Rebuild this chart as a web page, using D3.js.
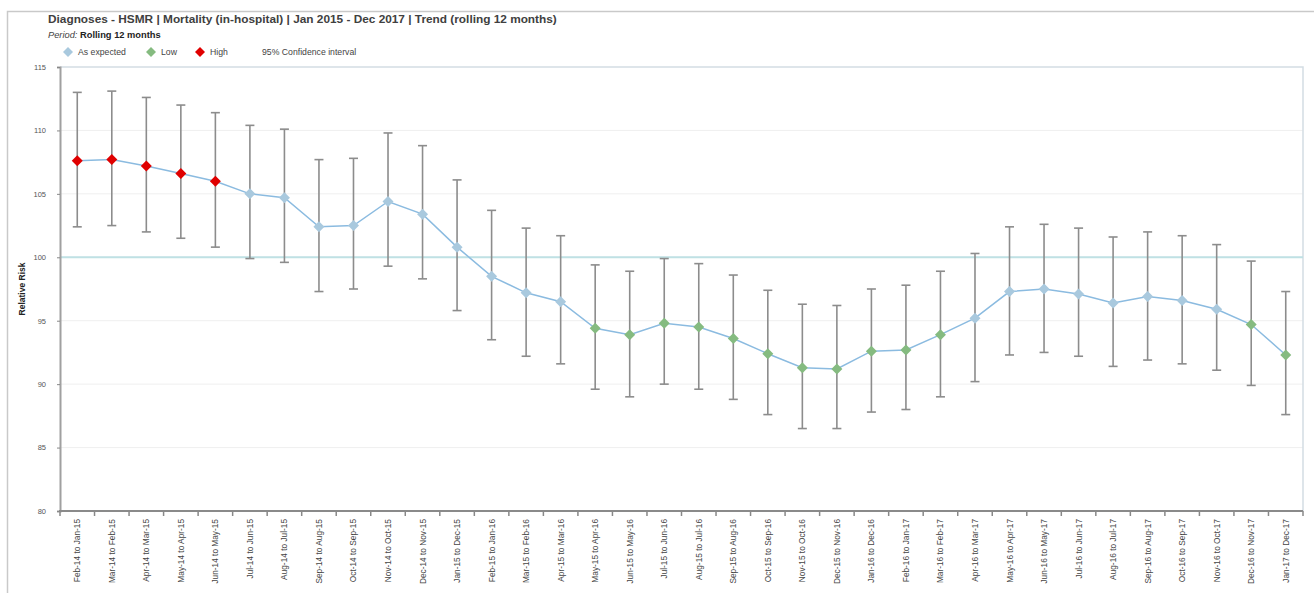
<!DOCTYPE html>
<html>
<head>
<meta charset="utf-8">
<script src="https://cdn.jsdelivr.net/npm/d3@7"></script>
<style>
  html, body { margin: 0; padding: 0; background: #fff; }
  svg { display: block; font-family: "Liberation Sans", Arial, sans-serif; }
</style>
</head>
<body>
<svg id="chart" width="1314" height="593"></svg>
<script>
// Rolling 12-month periods
const periods = [
  "Feb-14 to Jan-15", "Mar-14 to Feb-15", "Apr-14 to Mar-15", "May-14 to Apr-15",
  "Jun-14 to May-15", "Jul-14 to Jun-15", "Aug-14 to Jul-15", "Sep-14 to Aug-15",
  "Oct-14 to Sep-15", "Nov-14 to Oct-15", "Dec-14 to Nov-15", "Jan-15 to Dec-15",
  "Feb-15 to Jan-16", "Mar-15 to Feb-16", "Apr-15 to Mar-16", "May-15 to Apr-16",
  "Jun-15 to May-16", "Jul-15 to Jun-16", "Aug-15 to Jul-16", "Sep-15 to Aug-16",
  "Oct-15 to Sep-16", "Nov-15 to Oct-16", "Dec-15 to Nov-16", "Jan-16 to Dec-16",
  "Feb-16 to Jan-17", "Mar-16 to Feb-17", "Apr-16 to Mar-17", "May-16 to Apr-17",
  "Jun-16 to May-17", "Jul-16 to Jun-17", "Aug-16 to Jul-17", "Sep-16 to Aug-17",
  "Oct-16 to Sep-17", "Nov-16 to Oct-17", "Dec-16 to Nov-17", "Jan-17 to Dec-17"
];

// HSMR (relative risk) per period
const relativeRisk = [
  107.6, 107.7, 107.2, 106.6, 106.0, 105.0, 104.7, 102.4, 102.5, 104.4, 103.4, 100.8,
  98.5, 97.2, 96.5, 94.4, 93.9, 94.8, 94.5, 93.6, 92.4, 91.3, 91.2, 92.6,
  92.7, 93.9, 95.2, 97.3, 97.5, 97.1, 96.4, 96.9, 96.6, 95.9, 94.7, 92.3
];

// 95% confidence interval bounds
const ciLower = [
  102.4, 102.5, 102.0, 101.5, 100.8, 99.9, 99.6, 97.3, 97.5, 99.3, 98.3, 95.8,
  93.5, 92.2, 91.6, 89.6, 89.0, 90.0, 89.6, 88.8, 87.6, 86.5, 86.5, 87.8,
  88.0, 89.0, 90.2, 92.3, 92.5, 92.2, 91.4, 91.9, 91.6, 91.1, 89.9, 87.6
];
const ciUpper = [
  113.0, 113.1, 112.6, 112.0, 111.4, 110.4, 110.1, 107.7, 107.8, 109.8, 108.8, 106.1,
  103.7, 102.3, 101.7, 99.4, 98.9, 99.9, 99.5, 98.6, 97.4, 96.3, 96.2, 97.5,
  97.8, 98.9, 100.3, 102.4, 102.6, 102.3, 101.6, 102.0, 101.7, 101.0, 99.7, 97.3
];

// Classification of each period against expected mortality
const status = [
  "High", "High", "High", "High", "High",
  "As expected", "As expected", "As expected", "As expected", "As expected",
  "As expected", "As expected", "As expected", "As expected", "As expected",
  "Low", "Low", "Low", "Low", "Low", "Low", "Low", "Low", "Low", "Low", "Low",
  "As expected", "As expected", "As expected", "As expected", "As expected",
  "As expected", "As expected", "As expected",
  "Low", "Low"
];

const yTicks = [80, 85, 90, 95, 100, 105, 110, 115];
const legendItems = ["As expected", "Low", "High"];
const statusColor = { "As expected": "#a9c9de", "Low": "#85bb80", "High": "#e00000" };

const rows = periods.map((p, i) => ({
  period: p, value: relativeRisk[i], lo: ciLower[i], hi: ciUpper[i], status: status[i]
}));

const svg = d3.select("#chart");
const plot = { left: 60, right: 1303, top: 67, bottom: 511 };

// Outer frame
svg.append("path")
  .attr("d", `M7.5,593 V11.5 H1314`)
  .attr("fill", "none").attr("stroke", "#c9c9c9").attr("stroke-width", 1.5);

// Title block
const title = svg.append("text")
  .attr("x", 48).attr("y", 23)
  .attr("font-weight", "bold").attr("fill", "#404040").attr("font-size", 11.5)
  .text("Diagnoses - HSMR | Mortality (in-hospital) | Jan 2015 - Dec 2017 | Trend (rolling 12 months)");
const tw = title.node().getComputedTextLength();
title.attr("font-size", 11.5 * 509 / tw);

const period = svg.append("text").attr("x", 48).attr("y", 37.5)
  .attr("font-size", 9.3).attr("fill", "#222");
period.append("tspan").attr("font-style", "italic").attr("fill", "#444").text("Period: ");
period.append("tspan").attr("font-weight", "bold").text("Rolling 12 months");

// Diamond path generator
const diamond = r => `M0,${-r}L${r},0L0,${r}L${-r},0Z`;

// Legend
const legendX = [68, 151, 200];
legendItems.forEach((k, i) => {
  svg.append("path").attr("d", diamond(5))
    .attr("transform", `translate(${legendX[i]},52)`)
    .attr("fill", statusColor[k]);
  svg.append("text").attr("x", legendX[i] + 10).attr("y", 55)
    .attr("font-size", 8.7).attr("fill", "#444").text(k);
});
svg.append("text").attr("x", 262).attr("y", 55)
  .attr("font-size", 8.7).attr("fill", "#444").text("95% Confidence interval");

// Scales
const x = d3.scaleBand().domain(periods).range([plot.left, plot.right]).padding(0);
const y = d3.scaleLinear().domain([80, 115]).range([plot.bottom, plot.top]);
const cx = d => x(d.period) + x.bandwidth() / 2;

// Gridlines
svg.append("g").selectAll("line").data(yTicks.filter(t => t > 80 && t < 115)).join("line")
  .attr("x1", plot.left).attr("x2", plot.right)
  .attr("y1", d => y(d)).attr("y2", d => y(d))
  .attr("stroke", "#efefef").attr("stroke-width", 1);

// Plot box (top & right)
svg.append("path")
  .attr("d", `M${plot.left},${y(115)} H${plot.right} V${plot.bottom}`)
  .attr("fill", "none").attr("stroke", "#d3dde4").attr("stroke-width", 1.5);

// Reference line at relative risk 100
svg.append("line")
  .attr("x1", plot.left).attr("x2", plot.right)
  .attr("y1", y(100)).attr("y2", y(100))
  .attr("stroke", "#bfe1e4").attr("stroke-width", 2);

// Y axis
const yAxis = svg.append("g").attr("transform", `translate(${plot.left},0)`)
  .call(d3.axisLeft(y).tickValues(yTicks).tickSize(3).tickPadding(11).tickFormat(d3.format("d")));
yAxis.select(".domain").attr("stroke", "#a0a0a0").attr("stroke-width", 2);
yAxis.selectAll(".tick line").attr("stroke", "#888");
yAxis.selectAll(".tick text").attr("font-size", 7.5).attr("fill", "#555")
  .attr("font-family", "Liberation Sans, Arial, sans-serif");

svg.append("text")
  .attr("transform", `translate(25,${(plot.top + plot.bottom) / 2}) rotate(-90)`)
  .attr("text-anchor", "middle").attr("font-weight", "bold").attr("font-size", 8.5)
  .attr("fill", "#222").text("Relative Risk");

// X axis: labels centred in each band, ticks on band boundaries
const xAxis = svg.append("g").attr("transform", `translate(0,${plot.bottom})`)
  .call(d3.axisBottom(x).tickSize(0).tickPadding(0));
xAxis.select(".domain").remove();
xAxis.selectAll(".tick text")
  .attr("font-size", 8.3).attr("fill", "#444")
  .attr("font-family", "Liberation Sans, Arial, sans-serif")
  .attr("text-anchor", "end")
  .attr("dy", null)
  .attr("transform", "translate(3,8) rotate(-90)");

svg.append("g").selectAll("line").data(periods.concat([null])).join("line")
  .attr("x1", (d, i) => plot.left + i * x.step())
  .attr("x2", (d, i) => plot.left + i * x.step())
  .attr("y1", plot.bottom).attr("y2", plot.bottom + 5)
  .attr("stroke", "#888").attr("stroke-width", 1.5);

svg.append("line")
  .attr("x1", plot.left - 1).attr("x2", plot.right)
  .attr("y1", plot.bottom).attr("y2", plot.bottom)
  .attr("stroke", "#8a8a8a").attr("stroke-width", 2);

// Confidence intervals
const ci = svg.append("g").attr("stroke", "#8c8c8c").attr("stroke-width", 1.6);
ci.selectAll("line.stem").data(rows).join("line").attr("class", "stem")
  .attr("x1", cx).attr("x2", cx)
  .attr("y1", d => y(d.lo)).attr("y2", d => y(d.hi));
ci.selectAll("line.capHi").data(rows).join("line").attr("class", "capHi")
  .attr("x1", d => cx(d) - 4.5).attr("x2", d => cx(d) + 4.5)
  .attr("y1", d => y(d.hi)).attr("y2", d => y(d.hi));
ci.selectAll("line.capLo").data(rows).join("line").attr("class", "capLo")
  .attr("x1", d => cx(d) - 4.5).attr("x2", d => cx(d) + 4.5)
  .attr("y1", d => y(d.lo)).attr("y2", d => y(d.lo));

// Trend line
svg.append("path").datum(rows)
  .attr("d", d3.line().x(cx).y(d => y(d.value)))
  .attr("fill", "none").attr("stroke", "#8bbbe0").attr("stroke-width", 1.5);

// Markers
svg.append("g").selectAll("path").data(rows).join("path")
  .attr("d", diamond(5.5))
  .attr("transform", d => `translate(${cx(d)},${y(d.value)})`)
  .attr("fill", d => statusColor[d.status]);
</script>
</body>
</html>
